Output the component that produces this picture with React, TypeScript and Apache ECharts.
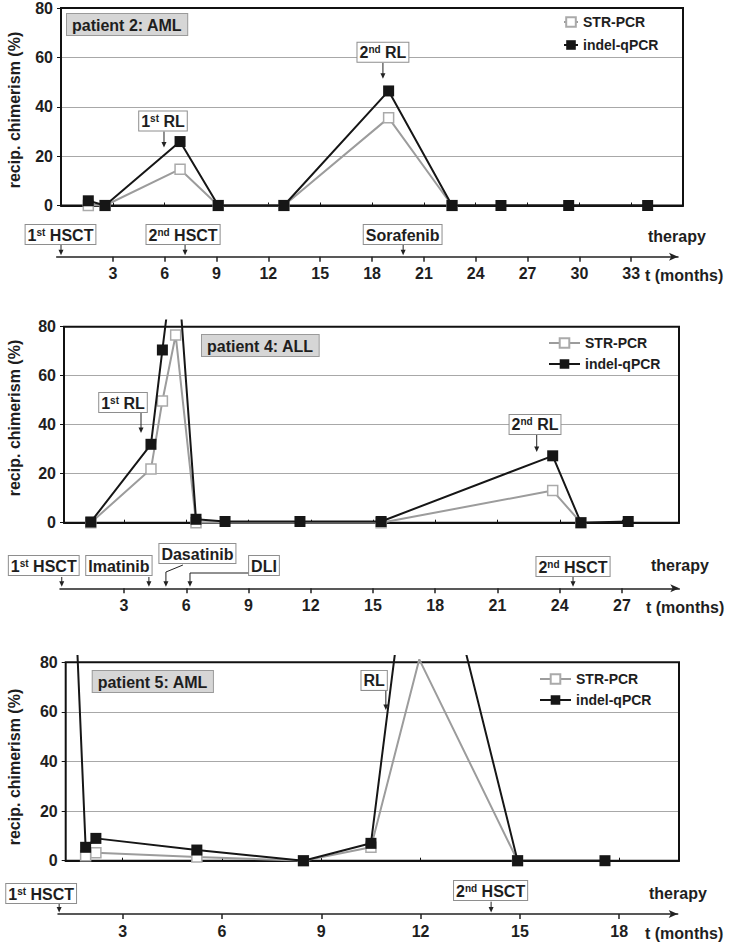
import React, { useEffect, useRef } from "react";
import * as echarts from "echarts";

const FONT = "'Liberation Sans', Arial, Helvetica, sans-serif";
const INK = "#1e1e1e";
const YMAX = 82.5;
const YTOP = 80;

const seriesNames = ["STR-PCR", "indel-qPCR"];
const yTicks = [0, 20, 40, 60, 80];

// ---------- patient 2: AML ----------
const p2Title = "patient 2: AML";
const p2IndelMonths = [1.58, 2.55, 6.89, 9.1, 12.9, 18.96, 22.63, 25.46, 29.38, 33.95];
const p2IndelValues = [1.9, 0, 25.9, 0, 0, 46.4, 0, 0, 0, 0];
const p2StrMonths = [1.58, 2.55, 6.89, 9.1, 12.9, 18.96, 22.63];
const p2StrValues = [0, 0, 14.7, 0, 0, 35.5, 0];
const p2TimeTicks = [3, 6, 9, 12, 15, 18, 21, 24, 27, 30, 33];
const p2Therapy = ["1st HSCT", "2nd HSCT", "Sorafenib"];
const p2TherapyMonths = [0, 7.18, 19.8];
const p2Relapse = ["1st RL", "2nd RL"];
const p2RelapseMonths = [5.96, 18.63];
const p2RelapseValues = [23.5, 51.3];

// ---------- patient 4: ALL ----------
const p4Title = "patient 4: ALL";
const p4IndelMonths = [1.4, 4.3, 4.85, 5.5, 6.47, 7.87, 11.48, 15.39, 23.66, 25.02, 27.3];
const p4IndelValues = [0.3, 32.0, 70.5, 115, 1.4, 0.5, 0.5, 0.5, 27.3, 0, 0.5];
const p4StrMonths = [1.4, 4.3, 4.85, 5.49, 6.47, 15.39, 23.66, 25.02];
const p4StrValues = [0, 21.9, 49.7, 76.6, 0, 0, 13.1, 0];
const p4TimeTicks = [3, 6, 9, 12, 15, 18, 21, 24, 27];
const p4Therapy = ["1st HSCT", "Imatinib", "Dasatinib", "DLI", "2nd HSCT"];
const p4TherapyMonths = [0, 4.2, 5.02, 6.18, 24.64];
const p4Relapse = ["1st RL", "2nd RL"];
const p4RelapseMonths = [3.82, 22.89];
const p4RelapseValues = [36.6, 28.9];

// ---------- patient 5: AML ----------
const p5Title = "patient 5: AML";
const p5IndelMonths = [1.58, 1.88, 2.19, 5.24, 8.46, 10.5, 11.95, 14.93, 17.57];
const p5IndelValues = [100, 5.4, 9.0, 4.3, 0, 7.0, 160, 0, 0];
const p5StrMonths = [1.88, 2.19, 5.24, 8.46, 10.5, 11.96, 14.93];
const p5StrValues = [2.0, 3.2, 1.5, 0, 5.4, 81.2, 0];
const p5TimeTicks = [3, 6, 9, 12, 15, 18];
const p5Therapy = ["1st HSCT", "2nd HSCT"];
const p5TherapyMonths = [1.08, 14.13];
const p5Relapse = ["RL"];
const p5RelapseMonths = [10.95];
const p5RelapseValues = [60.8];

type Panel = {
  title: string;
  strM: number[]; strV: number[]; indM: number[]; indV: number[];
  ticks: number[];
  therapy: string[]; therapyM: number[];
  relapse: string[]; relapseM: number[]; relapseV: number[];
};

const panels: Panel[] = [
  { title: p2Title, strM: p2StrMonths, strV: p2StrValues, indM: p2IndelMonths, indV: p2IndelValues, ticks: p2TimeTicks,
    therapy: p2Therapy, therapyM: p2TherapyMonths, relapse: p2Relapse, relapseM: p2RelapseMonths, relapseV: p2RelapseValues },
  { title: p4Title, strM: p4StrMonths, strV: p4StrValues, indM: p4IndelMonths, indV: p4IndelValues, ticks: p4TimeTicks,
    therapy: p4Therapy, therapyM: p4TherapyMonths, relapse: p4Relapse, relapseM: p4RelapseMonths, relapseV: p4RelapseValues },
  { title: p5Title, strM: p5StrMonths, strV: p5StrValues, indM: p5IndelMonths, indV: p5IndelValues, ticks: p5TimeTicks,
    therapy: p5Therapy, therapyM: p5TherapyMonths, relapse: p5Relapse, relapseM: p5RelapseMonths, relapseV: p5RelapseValues },
];

// ---------- layout (pixels) ----------
type TBox = { dx: number; up: number; arrowTop?: number; leader?: "diag" | "elbow" };
type Layout = {
  px0: number; ppm: number; gridL: number; gridR: number; y80: number; y0: number;
  axisY: number; axisL: number; axisR: number;
  title: [number, number]; legend: [number, number, number, number];
  therapyText: [number, number]; tText: [number, number]; nameY: number;
  tbox: TBox[]; rbox: { dx: number; len: number }[];
};

const layouts: Layout[] = [
  {
    px0: 61, ppm: 17.28, gridL: 61, gridR: 683, y80: 6.5, y0: 205.5,
    axisY: 256.7, axisL: 56.7, axisR: 678,
    title: [67, 14], legend: [558, 10, 14, 9],
    therapyText: [648, 236], tText: [645, 275], nameY: 110,
    tbox: [
      { dx: -0.5, up: 12.7, arrowTop: 11.7 },
      { dx: -2, up: 12.7, arrowTop: 11.7 },
      { dx: -0.5, up: 12.7, arrowTop: 11.7 },
    ],
    rbox: [{ dx: -1, len: 16 }, { dx: 0, len: 16 }],
  },
  {
    px0: 61.75, ppm: 20.75, gridL: 64, gridR: 679, y80: 326.7, y0: 522.7,
    axisY: 588.3, axisL: 60, axisR: 679.3,
    title: [202, 335], legend: [543, 331, 31, 7],
    therapyText: [651, 565], tText: [646, 607], nameY: 418,
    tbox: [
      { dx: -18, up: 13.3, arrowTop: 11.3 },
      { dx: -30, up: 13.3, arrowTop: 11.3 },
      { dx: 31.5, up: 25.3, leader: "diag" },
      { dx: 74, up: 13.3, leader: "elbow" },
      { dx: 0, up: 12.3, arrowTop: 11.3 },
    ],
    rbox: [{ dx: -18, len: 20 }, { dx: -1.7, len: 17 }],
  },
  {
    px0: 23.4, ppm: 33.1, gridL: 65.7, gridR: 679, y80: 662.3, y0: 860.7,
    axisY: 914, axisL: 58, axisR: 677.7,
    title: [92.7, 671], legend: [534, 667, 31, 7],
    therapyText: [649, 893], tText: [645, 933], nameY: 767,
    tbox: [
      { dx: -18, up: 11, arrowTop: 10 },
      { dx: -0.5, up: 14, arrowTop: 12.3 },
    ],
    rbox: [{ dx: -11.7, len: 19 }],
  },
];

const boldText = { fontFamily: FONT, fontWeight: "bold" as const, color: INK };

// points above the drawn frame are not marked (only the line reaches out)
const pointsOf = (months: number[], values: number[]) =>
  months.map((m, i) => (values[i] > YTOP ? { value: [m, values[i]], symbol: "none" } : { value: [m, values[i]] }));

function buildOption() {
  const grid: any[] = [];
  const xAxis: any[] = [];
  const yAxis: any[] = [];
  const series: any[] = [];
  const legend: any[] = [];
  layouts.forEach((L, p) => {
    const P = panels[p];
    const top = L.y80 - ((YMAX - YTOP) * (L.y0 - L.y80)) / YTOP;
    grid.push({ left: L.gridL, top, width: L.gridR - L.gridL, height: L.y0 - top });
    grid.push({ left: L.axisL, top: L.axisY - 1, width: L.axisR - L.axisL, height: 1 });
    xAxis.push({
      type: "value", gridIndex: 2 * p,
      min: (L.gridL - L.px0) / L.ppm, max: (L.gridR - L.px0) / L.ppm,
      axisLine: { show: true, onZero: false, lineStyle: { color: "#111", width: 2 } },
      axisTick: { show: true, inside: true, length: 3, customValues: P.ticks, lineStyle: { color: "#111", width: 1 } },
      axisLabel: { show: false },
      splitLine: { show: false },
    });
    xAxis.push({
      type: "value", gridIndex: 2 * p + 1, position: "bottom",
      min: (L.axisL - L.px0) / L.ppm, max: (L.axisR - L.px0) / L.ppm,
      axisLine: { show: true, onZero: false, symbol: ["none", "arrow"], symbolSize: [6, 9], lineStyle: { color: "#222", width: 1.5 } },
      axisTick: { show: true, inside: false, length: 5, customValues: P.ticks, lineStyle: { color: "#222", width: 1.5 } },
      axisLabel: { show: true, customValues: P.ticks, margin: 9, fontSize: 16, ...boldText },
      splitLine: { show: false },
    });
    yAxis.push({
      type: "value", gridIndex: 2 * p, min: 0, max: YMAX,
      axisLine: { show: false },
      axisTick: { show: true, length: 4, customValues: yTicks, lineStyle: { color: "#111", width: 1 } },
      axisLabel: { show: true, customValues: yTicks, margin: 8, fontSize: 16, ...boldText },
      splitLine: { show: true, lineStyle: { color: "#a8a8a8", width: 1 } },
    });
    yAxis.push({ type: "value", gridIndex: 2 * p + 1, min: 0, max: 1, show: false });
    series.push({
      type: "line", name: seriesNames[0], xAxisIndex: 2 * p, yAxisIndex: 2 * p,
      data: pointsOf(P.strM, P.strV),
      symbol: "rect", symbolSize: 10, clip: true, z: 3,
      lineStyle: { color: "#9c9c9c", width: 2 },
      itemStyle: { color: "#ffffff", borderColor: "#aaaaaa", borderWidth: 1.5 },
    });
    series.push({
      type: "line", name: seriesNames[1], xAxisIndex: 2 * p, yAxisIndex: 2 * p,
      data: pointsOf(P.indM, P.indV),
      symbol: "rect", symbolSize: 11, clip: true, z: 4,
      lineStyle: { color: "#161616", width: 2 },
      itemStyle: { color: "#161616" },
    });
    legend.push({
      orient: "vertical", left: L.legend[0], top: L.legend[1],
      itemWidth: L.legend[2], itemHeight: 12, itemGap: L.legend[3],
      selectedMode: false, data: seriesNames,
      textStyle: { fontSize: 14, ...boldText },
    });
  });
  return {
    animation: false,
    backgroundColor: "#ffffff",
    grid, xAxis, yAxis, series, legend,
  };
}

function ordinalRich(label: string) {
  const m = label.match(/^(\d+)(st|nd|rd|th)(.*)$/);
  if (!m) return `{b|${label}}`;
  return `{b|${m[1]}}{s|${m[2]}}{b|${m[3]}}`;
}

const rich = {
  b: { fontSize: 16, fontWeight: "bold", fontFamily: FONT, fill: INK },
  s: { fontSize: 10, fontWeight: "bold", fontFamily: FONT, fill: INK, verticalAlign: "top" },
};

function labelBox(text: string, cx: number, bottom: number) {
  return {
    type: "text", x: cx, y: bottom, z: 20,
    style: {
      text: ordinalRich(text), rich, align: "center", verticalAlign: "bottom",
      backgroundColor: "#ffffff", borderColor: "#8e8e8e", borderWidth: 1, padding: [2, 2, 1, 2],
      fill: INK, fontSize: 16, fontWeight: "bold", fontFamily: FONT,
    },
  };
}

function arrowHead(x: number, y: number) {
  return { type: "polygon", z: 20, shape: { points: [[x - 2.5, y - 5.5], [x + 2.5, y - 5.5], [x, y]] }, style: { fill: "#222" } };
}

function buildGraphics(chart: any) {
  const g: any[] = [];
  layouts.forEach((L, p) => {
    const P = panels[p];
    const xi = 2 * p;
    const toPx = (m: number, v: number) => chart.convertToPixel({ xAxisIndex: xi, yAxisIndex: xi }, [m, v]);
    const toAxis = (m: number) => chart.convertToPixel({ xAxisIndex: xi + 1, yAxisIndex: xi + 1 }, [m, 0]);
    const xMin = (L.gridL - L.px0) / L.ppm;
    const xMax = (L.gridR - L.px0) / L.ppm;
    const a = toPx(xMin, YTOP);
    const b = toPx(xMax, 0);
    // plot frame
    g.push({ type: "rect", z: 1, shape: { x: a[0], y: a[1], width: b[0] - a[0], height: b[1] - a[1] },
      style: { fill: "transparent", stroke: "#111", lineWidth: 2 } });
    // patient title box
    g.push({ type: "text", x: L.title[0], y: L.title[1], z: 20,
      style: { text: P.title, fill: INK, fontSize: 16, fontWeight: "bold", fontFamily: FONT,
        backgroundColor: "#d6d6d6", borderColor: "#9a9a9a", borderWidth: 1, padding: [3, 5, 2, 5] } });
    // y axis name
    g.push({ type: "text", x: 14, y: L.nameY, rotation: Math.PI / 2, z: 20,
      style: { text: "recip. chimerism (%)", fill: INK, fontSize: 16, fontWeight: "bold", fontFamily: FONT,
        align: "center", verticalAlign: "middle" } });
    // therapy / t (months)
    g.push({ type: "text", x: L.therapyText[0], y: L.therapyText[1], z: 20,
      style: { text: "therapy", fill: INK, fontSize: 16, fontWeight: "bold", fontFamily: FONT, verticalAlign: "middle" } });
    g.push({ type: "text", x: L.tText[0], y: L.tText[1], z: 20,
      style: { text: "t (months)", fill: INK, fontSize: 16, fontWeight: "bold", fontFamily: FONT, verticalAlign: "middle" } });
    // relapse annotations
    P.relapse.forEach((name, i) => {
      const [tx, ty] = toPx(P.relapseM[i], P.relapseV[i]);
      const R = L.rbox[i];
      g.push({ type: "line", z: 20, shape: { x1: tx, y1: ty - R.len, x2: tx, y2: ty - 4 }, style: { stroke: "#222", lineWidth: 1 } });
      g.push(arrowHead(tx, ty));
      g.push(labelBox(name, tx + R.dx, ty - R.len - 1));
    });
    // therapy annotations
    P.therapy.forEach((name, i) => {
      const [ax, ay] = toAxis(P.therapyM[i]);
      const T = L.tbox[i];
      const tip = ay - 1.5;
      if (T.leader === "diag") {
        g.push({ type: "polyline", z: 20, shape: { points: [[ax + 17, ay - T.up + 2], [ax, ay - 16.3], [ax, tip - 4]] },
          style: { stroke: "#222", lineWidth: 1, fill: null } });
      } else if (T.leader === "elbow") {
        g.push({ type: "polyline", z: 20, shape: { points: [[ax + 60, ay - 15.3], [ax, ay - 15.3], [ax, tip - 4]] },
          style: { stroke: "#222", lineWidth: 1, fill: null } });
      } else {
        g.push({ type: "line", z: 20, shape: { x1: ax, y1: ay - (T.arrowTop || 11), x2: ax, y2: tip - 4 }, style: { stroke: "#222", lineWidth: 1 } });
      }
      g.push(arrowHead(ax, tip));
      g.push(labelBox(name, ax + T.dx, ay - T.up));
    });
  });
  return g;
}

export default function App() {
  const ref = useRef<HTMLDivElement>(null);
  useEffect(() => {
    const chart = echarts.init(ref.current!, null, { renderer: "svg" });
    chart.setOption(buildOption() as any);
    chart.setOption({ graphic: buildGraphics(chart) } as any);
    return () => chart.dispose();
  }, []);
  return (
    <div
      ref={ref}
      style={{ position: "absolute", left: 0, top: 0, width: 732, height: 945, background: "#fff" }}
    />
  );
}
